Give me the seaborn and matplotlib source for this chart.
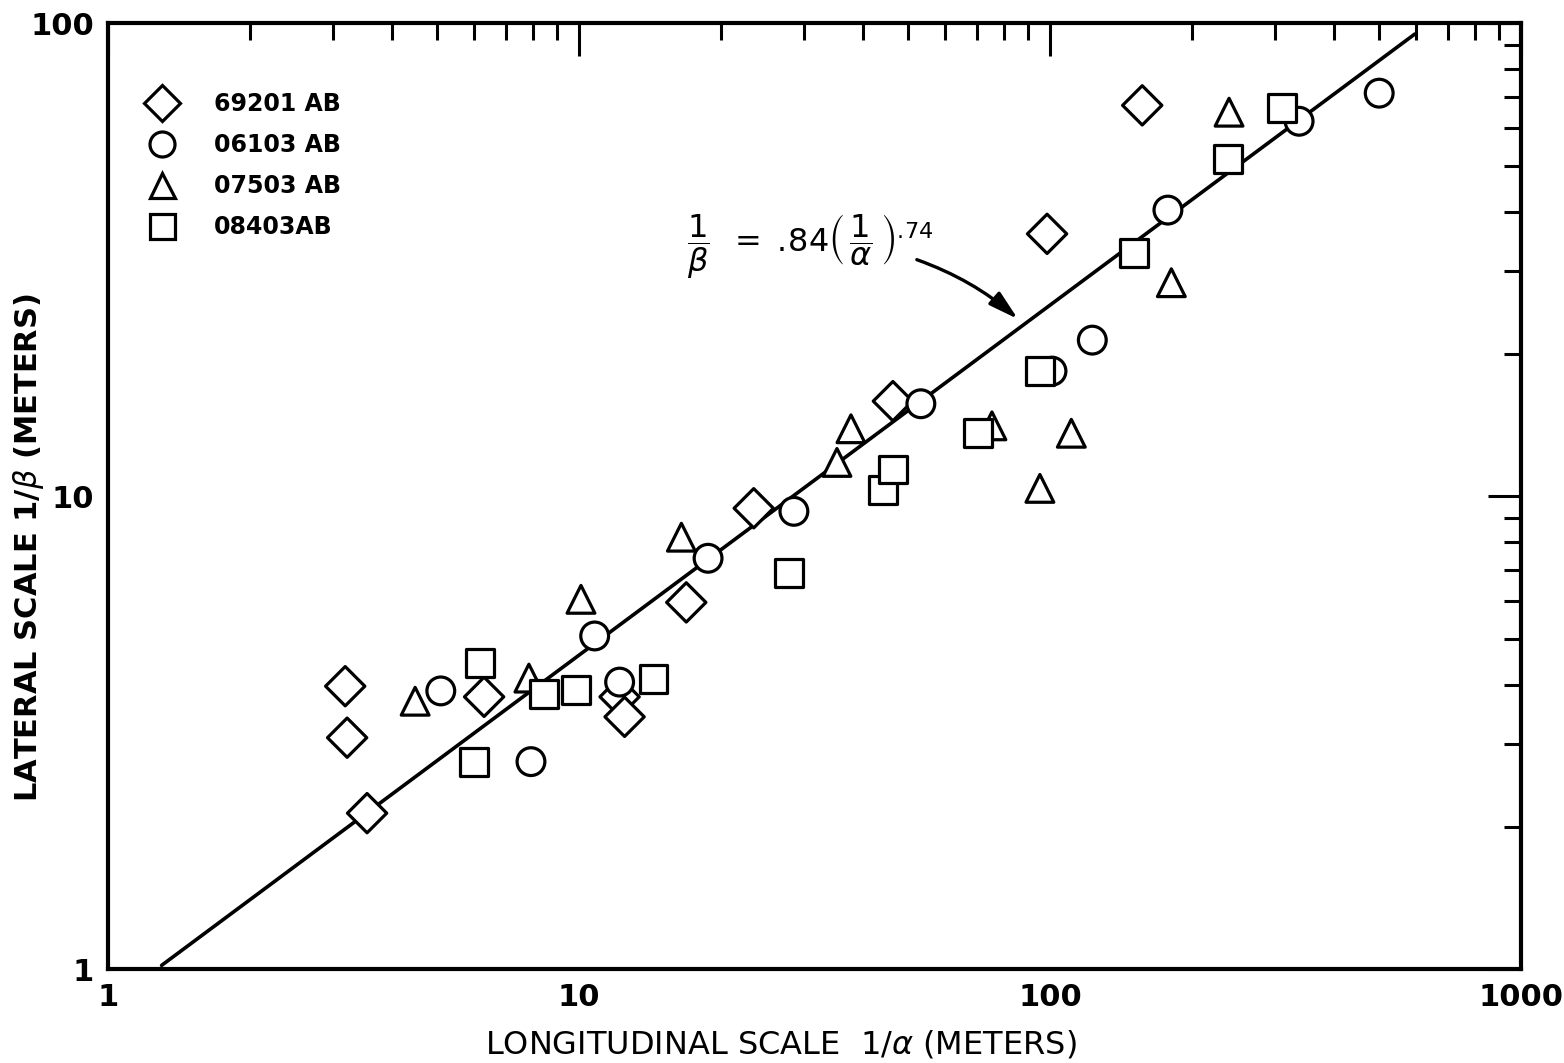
import numpy as np
import pandas as pd
import seaborn as sns
import matplotlib
matplotlib.use("Agg")
import matplotlib.pyplot as plt
from matplotlib.ticker import FixedLocator, LogLocator, NullFormatter

# data (1/alpha, 1/beta in meters)
labels = ['69201 AB', '06103 AB', '07503 AB', '08403AB']

x_69201 = [3.19, 3.22, 3.55, 6.29, 12.2, 12.5, 16.9, 23.5, 46.4, 98.6, 157]
y_69201 = [3.97, 3.09, 2.14, 3.77, 3.77, 3.42, 5.97, 9.44, 15.9, 35.9, 67.1]

x_06103 = [5.09, 7.91, 10.8, 12.2, 18.8, 28.6, 53.2, 101, 123, 178, 338, 500]
y_06103 = [3.88, 2.75, 5.07, 4.05, 7.40, 9.30, 15.7, 18.4, 21.4, 40.3, 62.1, 71.2]

x_07503 = [4.49, 7.83, 10.1, 16.5, 35.3, 37.8, 75.3, 95.2, 111, 181, 240]
y_07503 = [3.69, 4.13, 6.06, 8.20, 11.8, 13.9, 14.1, 10.4, 13.6, 28.3, 64.9]

x_08403 = [5.98, 6.16, 8.43, 9.86, 14.4, 27.9, 44.2, 46.4, 70.3, 95.2, 151, 239, 311]
y_08403 = [2.75, 4.44, 3.82, 3.90, 4.11, 6.88, 10.3, 11.4, 13.6, 18.4, 32.7, 51.7, 66.2]

# fitted line 1/beta = .84 (1/alpha)^.74
fit_coef = 0.84
fit_exp = 0.74
fit_x = [1.3, 595]

xtick_vals = [1, 10, 100, 1000]
xtick_labels = ['1', '10', '100', '1000']
ytick_vals = [1, 10, 100]
ytick_labels = ['1', '10', '100']

frames = []
for lab, xs, ys in zip(labels, [x_69201, x_06103, x_07503, x_08403],
                       [y_69201, y_06103, y_07503, y_08403]):
    frames.append(pd.DataFrame({'x': xs, 'y': ys, 'series': lab}))
df = pd.concat(frames, ignore_index=True)

fit_df = pd.DataFrame({'x': fit_x})
fit_df['y'] = fit_coef * fit_df['x'] ** fit_exp

sns.set_style('white')
plt.rcParams['font.family'] = ['DejaVu Sans']
plt.rcParams['text.color'] = 'black'
plt.rcParams['axes.labelcolor'] = 'black'
plt.rcParams['xtick.color'] = 'black'
plt.rcParams['ytick.color'] = 'black'

fig = plt.figure(figsize=(15.64, 10.63), dpi=100)
ax = fig.add_axes([0.069, 0.088, 0.9035, 0.89])
ax.set_xscale('log')
ax.set_yscale('log')

sns.lineplot(data=fit_df, x='x', y='y', ax=ax, color='black', lw=2.6, zorder=2)

markers = {'69201 AB': 'D', '06103 AB': 'o', '07503 AB': '^', '08403AB': 's'}
sns.scatterplot(data=df, x='x', y='y', style='series', markers=markers,
                hue='series', palette=['white'] * 4, edgecolor='black',
                linewidth=2.3, s=400, ax=ax, zorder=3)

ax.set_xlim(1, 1000)
ax.set_ylim(1, 100)

ax.xaxis.set_major_locator(FixedLocator(xtick_vals))
ax.set_xticklabels(xtick_labels)
ax.yaxis.set_major_locator(FixedLocator(ytick_vals))
ax.set_yticklabels(ytick_labels)
ax.xaxis.set_minor_locator(LogLocator(base=10, subs=np.arange(2, 10)))
ax.yaxis.set_minor_locator(LogLocator(base=10, subs=np.arange(2, 10)))
ax.xaxis.set_minor_formatter(NullFormatter())
ax.yaxis.set_minor_formatter(NullFormatter())

ax.tick_params(which='both', direction='in', top=True, right=True,
               color='black', labelcolor='black', width=2.2)
ax.tick_params(which='major', length=24, labelsize=22, pad=10)
ax.tick_params(which='minor', length=12)
for t in ax.get_xticklabels() + ax.get_yticklabels():
    t.set_fontweight('bold')

for sp in ax.spines.values():
    sp.set_linewidth(3)
    sp.set_color('black')

ax.set_xlabel(r'LONGITUDINAL SCALE  1/$\alpha$ (METERS)', fontsize=23,
              color='black')
ax.xaxis.set_label_coords(0.476, -0.062)
ax.set_ylabel(r'LATERAL SCALE 1/$\beta$ (METERS)', fontsize=22,
              fontweight='bold', color='black')
ax.yaxis.set_label_coords(-0.044, 0.446)

# equation and arrow
ax.text(0.497, 0.765,
        r'$\dfrac{1}{\beta}\;\;=\;.\!84\left(\,\dfrac{1}{\alpha}\,\right)^{.\!74}$',
        transform=ax.transAxes, fontsize=23, ha='center', va='center',
        color='black')
ax.annotate('', xy=(86.4, 23.5), xytext=(51.5, 31.8),
            arrowprops=dict(arrowstyle='-|>,head_length=0.9,head_width=0.25',
                            color='black', lw=2.4, mutation_scale=20,
                            connectionstyle='arc3,rad=-0.1'))

leg = ax.legend(loc='upper left', bbox_to_anchor=(0.01, 0.945), frameon=False,
                prop={'size': 17, 'weight': 'bold'}, labelspacing=0.72,
                handletextpad=1.2, borderpad=0.2, title=None)
for txt in leg.get_texts():
    txt.set_color('black')
for h in leg.legend_handles:
    h.set_markersize(18)
    h.set_markeredgecolor('black')
    h.set_markerfacecolor('white')
    h.set_markeredgewidth(2.3)

fig.savefig('out.png', dpi=100)
